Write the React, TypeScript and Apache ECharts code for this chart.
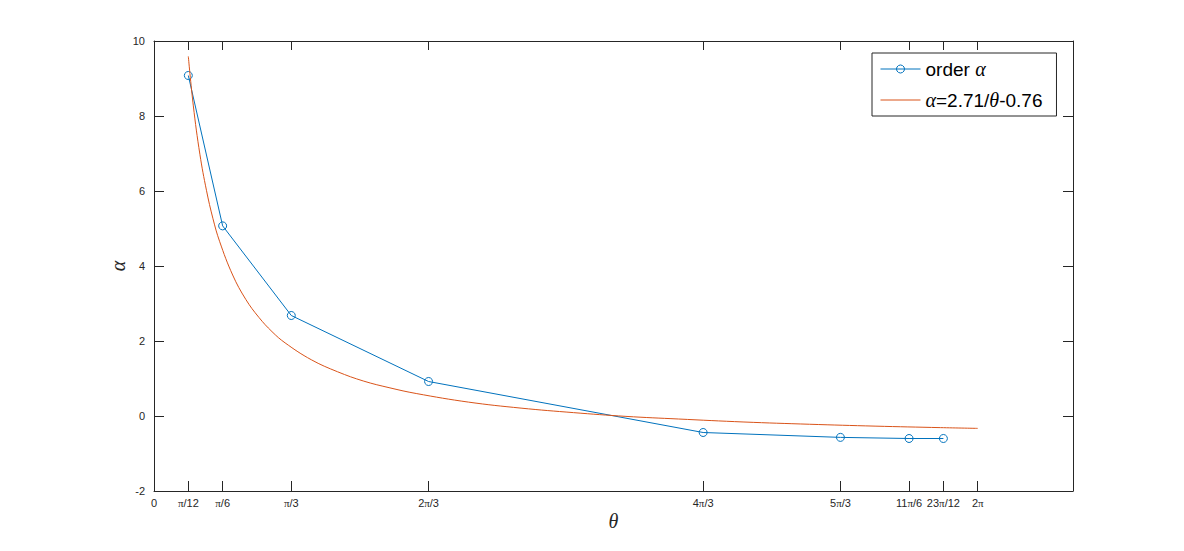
import React, { useEffect, useRef } from "react";
import * as echarts from "echarts";

// Measured points: theta (rad) and alpha
const orderTheta = [0.2618, 0.5236, 1.0472, 2.0944, 4.1888, 5.236, 5.7596, 6.0214];
const orderAlpha = [9.08, 5.07, 2.68, 0.92, -0.44, -0.57, -0.6, -0.6];

// Fitted curve alpha = 2.71/theta - 0.76
const fitTheta = [0.2618, 0.3, 0.35, 0.4, 0.45, 0.5, 0.6, 0.7, 0.8, 0.9, 1.0, 1.2, 1.4, 1.6, 1.8, 2.0, 2.4, 2.8, 3.2, 3.6, 4.0, 4.5, 5.0, 5.5, 6.0, 6.2832];
const fitAlpha = [9.59, 8.27, 6.98, 6.02, 5.26, 4.66, 3.76, 3.11, 2.63, 2.25, 1.95, 1.5, 1.18, 0.93, 0.75, 0.6, 0.37, 0.21, 0.09, -0.01, -0.08, -0.16, -0.22, -0.27, -0.31, -0.33];

// X tick positions and labels
const xTickValues = [0, Math.PI / 12, Math.PI / 6, Math.PI / 3, (2 * Math.PI) / 3, (4 * Math.PI) / 3, (5 * Math.PI) / 3, (11 * Math.PI) / 6, (23 * Math.PI) / 12, 2 * Math.PI];
const xTickLabels = ["0", "π/12", "π/6", "π/3", "2π/3", "4π/3", "5π/3", "11π/6", "23π/12", "2π"];

const seriesNames = ["order α", "α=2.71/θ-0.76"];

const AX = "#262626";
const BLUE = "#0072BD";
const RED = "#D95319";
const SANS = "Liberation Sans, Arial, sans-serif";
const SERIF = "Liberation Serif, Times New Roman, serif";

export default function App() {
  const ref = useRef<HTMLDivElement>(null);
  useEffect(() => {
    if (!ref.current) return;
    const chart = echarts.init(ref.current, undefined, { renderer: "svg" });
    const greek = (s: string) => s.replace(/([αθπ])/g, (m) => (m === "π" ? "{p|π}" : "{g|" + m + "}"));
    const xLabel = (v: number) => {
      let best = 0;
      let d = Infinity;
      xTickValues.forEach((t, i) => {
        if (Math.abs(t - v) < d) {
          d = Math.abs(t - v);
          best = i;
        }
      });
      return greek(xTickLabels[best]);
    };
    const xMax = 7.01;
    chart.setOption({
      animation: false,
      backgroundColor: "#fff",
      grid: { left: 154, top: 41, right: 111, bottom: 60, containLabel: false },
      legend: {
        orient: "vertical",
        left: 872,
        top: 53,
        padding: [5, 14, 5, 8],
        itemGap: 9,
        itemWidth: 40,
        itemHeight: 10,
        backgroundColor: "#fff",
        borderColor: AX,
        borderWidth: 1,
        borderRadius: 0,
        lineStyle: { width: 1 },
        data: [
          { name: seriesNames[0], itemStyle: { color: "rgba(255,255,255,0)", borderColor: BLUE, borderWidth: 1 } },
          { name: seriesNames[1], itemStyle: { color: "rgba(255,255,255,0)", borderWidth: 0, opacity: 0 } },
        ],
        formatter: (n: string) => greek(n),
        textStyle: {
          fontFamily: SANS,
          fontSize: 19,
          color: "#000",
          lineHeight: 22,
          rich: {
            g: { fontFamily: SERIF, fontStyle: "italic", fontSize: 20, color: "#000" },
          },
        },
      },
      xAxis: [
        {
          type: "value",
          min: 0,
          max: xMax,
          name: "θ",
          nameLocation: "middle",
          nameGap: 20,
          nameMoveOverlap: false,
          nameTextStyle: { fontFamily: SERIF, fontStyle: "italic", fontSize: 20, color: AX },
          axisLine: { show: true, onZero: false, lineStyle: { color: AX, width: 1 } },
          axisTick: { show: true, inside: true, length: 10, lineStyle: { color: AX }, customValues: xTickValues },
          axisLabel: {
            show: true,
            customValues: xTickValues,
            formatter: xLabel,
            margin: 6,
            fontFamily: SANS,
            fontSize: 11,
            color: AX,
            rich: { p: { fontFamily: SERIF, fontSize: 11, color: AX } },
          },
          splitLine: { show: false },
        },
        {
          type: "value",
          position: "top",
          min: 0,
          max: xMax,
          axisLine: { show: true, onZero: false, lineStyle: { color: AX, width: 1 } },
          axisTick: { show: true, inside: true, length: 9, lineStyle: { color: AX }, customValues: xTickValues },
          axisLabel: { show: false },
          splitLine: { show: false },
        },
      ],
      yAxis: [
        {
          type: "value",
          min: -2,
          max: 10,
          interval: 2,
          name: "α",
          nameLocation: "middle",
          nameGap: 26,
          nameMoveOverlap: false,
          nameTextStyle: { fontFamily: SERIF, fontStyle: "italic", fontSize: 20, color: AX },
          axisLine: { show: true, onZero: false, lineStyle: { color: AX, width: 1 } },
          axisTick: { show: true, inside: true, length: 10, lineStyle: { color: AX } },
          axisLabel: { margin: 9, fontFamily: SANS, fontSize: 11, color: AX },
          splitLine: { show: false },
        },
        {
          type: "value",
          position: "right",
          min: -2,
          max: 10,
          interval: 2,
          axisLine: { show: true, onZero: false, lineStyle: { color: AX, width: 1 } },
          axisTick: { show: true, inside: true, length: 10, lineStyle: { color: AX } },
          axisLabel: { show: false },
          splitLine: { show: false },
        },
      ],
      series: [
        {
          name: seriesNames[0],
          type: "line",
          xAxisIndex: 0,
          yAxisIndex: 0,
          data: orderTheta.map((t, i) => [t, orderAlpha[i]]),
          color: BLUE,
          symbol: "circle",
          symbolSize: 8,
          showSymbol: true,
          lineStyle: { color: BLUE, width: 1 },
          itemStyle: { color: "rgba(255,255,255,0)", borderColor: BLUE, borderWidth: 1 },
          z: 2,
        },
        {
          name: seriesNames[1],
          type: "line",
          xAxisIndex: 0,
          yAxisIndex: 0,
          data: fitTheta.map((t, i) => [t, fitAlpha[i]]),
          color: RED,
          smooth: 0.4,
          symbol: "none",
          lineStyle: { color: RED, width: 1 },
          z: 3,
        },
      ],
    });
    return () => chart.dispose();
  }, []);
  return (
    <div
      ref={ref}
      style={{ position: "fixed", left: 0, top: 0, width: 1184, height: 551, background: "#fff" }}
    />
  );
}
